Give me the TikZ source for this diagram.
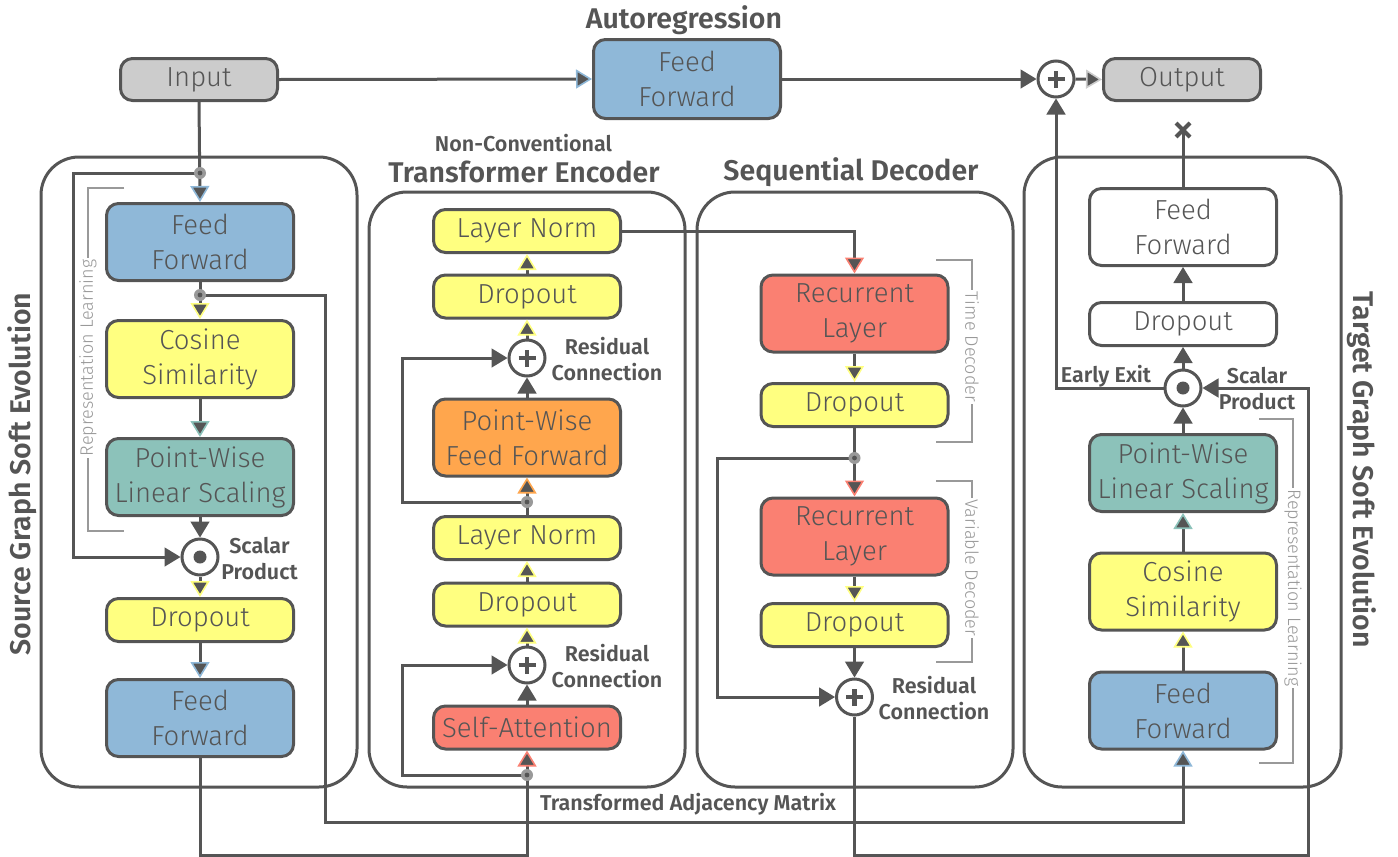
\documentclass[tikz,border=0pt]{standalone}
\usepackage{fontspec}
\usetikzlibrary{arrows.meta,calc}
\IfFontExistsTF{Fira Sans Light}{\newfontfamily\lightf{Fira Sans Light}}{\newfontfamily\lightf{Fira Sans}}
\IfFontExistsTF{Fira Sans SemiBold}{\newfontfamily\boldf{Fira Sans SemiBold}}{\newfontfamily\boldf{Fira Sans}}
\definecolor{dk}{HTML}{555555}
\definecolor{cblue}{HTML}{8FB8D8}
\definecolor{cyel}{HTML}{FFFF80}
\definecolor{cteal}{HTML}{8CC2BA}
\definecolor{corg}{HTML}{FFA64D}
\definecolor{csal}{HTML}{FA8072}
\definecolor{cgray}{HTML}{CCCCCC}
\definecolor{cbr}{HTML}{999999}
\tikzset{
  arr/.style={-{Triangle[width=19pt,length=16pt,line width=1.6pt,color=#1,fill=dk]}},
  arr/.default=dk,
  conn/.style={draw=dk, line width=3pt},
  box/.style={draw=dk, line width=3pt, rounded corners=12pt, text=dk,
    font=\lightf\fontsize{27.5pt}{35pt}\selectfont, align=center, inner sep=0pt,
    minimum width=187pt},
  tall/.style={box, minimum height=77pt},
  short/.style={box, minimum height=43pt},
  panel/.style={draw=dk, line width=3pt, rounded corners=38pt},
  op/.style={circle, draw=dk, line width=3pt, fill=white, minimum size=36pt, inner sep=0pt},
  opplus/.style={op, path picture={\draw[dk, line width=4.5pt]
      ($(path picture bounding box.center)+(-8.5pt,0)$) -- ++(17pt,0)
      ($(path picture bounding box.center)+(0,-8.5pt)$) -- ++(0,17pt);}},
  opdot/.style={op, path picture={\fill[dk] (path picture bounding box.center) circle (6.5pt);}},
  jn/.style={circle, fill=cbr, minimum size=12pt, inner sep=0pt,
    path picture={\fill[dk] (path picture bounding box.center) circle (2.4pt);}},
  title/.style={text=dk, font=\boldf\fontsize{28.5pt}{32pt}\selectfont, inner sep=0pt},
  lab/.style={text=dk, font=\boldf\fontsize{21.5pt}{26pt}\selectfont, align=center, inner sep=0pt},
  brk/.style={draw=cbr, line width=2.5pt},
  brklab/.style={text=cbr, fill=white, font=\lightf\fontsize{18pt}{20pt}\selectfont, inner sep=1.5pt},
}
\begin{document}
\begin{tikzpicture}[x=1pt, y=-1pt]
\useasboundingbox (0,0) rectangle (1398,857);
% panels
\draw[panel] (41,157) rectangle (357,787);
\draw[panel] (369,192) rectangle (685,787);
\draw[panel] (697,192) rectangle (1013,787);
\draw[panel] (1024,157) rectangle (1341,787);
% titles
\node[title] (tAR) at (684,20) {Autoregression};
\node[lab] (tNC) at (523.5,143) {Non-Conventional};
\node[title] (tTE) at (524,172) {Transformer Encoder};
\node[title] (tSD) at (851,172) {Sequential Decoder};
\node[title, rotate=90] (tSrc) at (22,474) {Source Graph Soft Evolution};
\node[title, rotate=-90] (tTgt) at (1362,470) {Target Graph Soft Evolution};
% brackets
\draw[brk] (124,188) -- (88,188) -- (88,531) -- (124,531);
\node[brklab, rotate=90] (rl1) at (88,358) {Representation Learning};
\draw[brk] (1259,419) -- (1293,419) -- (1293,763) -- (1259,763);
\node[brklab, rotate=-90] (rl2) at (1293,588) {Representation Learning};
\draw[brk] (936,260) -- (972,260) -- (972,442) -- (936,442);
\node[brklab, rotate=-90] (tdl) at (972,347) {Time Decoder};
\draw[brk] (936,481) -- (972,481) -- (972,662) -- (936,662);
\node[brklab, rotate=-90] (vdl) at (972,568) {Variable Decoder};
% top nodes
\node[box, fill=cgray, minimum width=157pt, minimum height=42pt] (in) at (199,79.5) {Input};
\node[box, fill=cblue, minimum width=187pt, minimum height=79pt] (arFF) at (687,79) {Feed\\Forward};
\node[opplus] (topPl) at (1056,79) {};
\node[box, fill=cgray, minimum width=157pt, minimum height=42pt] (out) at (1182,79.5) {Output};
% source column
\node[tall, fill=cblue] (sFF1) at (200,242) {Feed\\Forward};
\node[tall, fill=cyel] (sCos) at (200,359) {Cosine\\Similarity};
\node[tall, fill=cteal] (sPW) at (200,477) {Point-Wise\\Linear Scaling};
\node[opdot] (sDot) at (200,557) {};
\node[lab] (sSP) at (259.5,559) {Scalar\\Product};
\node[short, fill=cyel] (sDr) at (200,620) {Dropout};
\node[tall, fill=cblue] (sFF2) at (200,718) {Feed\\Forward};
% encoder column
\node[short, fill=cyel] (eLN1) at (527,231) {Layer Norm};
\node[short, fill=cyel] (eDr1) at (527,296.5) {Dropout};
\node[opplus] (ePl1) at (527,358) {};
\node[lab] (eRC1) at (607,359.5) {Residual\\Connection};
\node[tall, fill=corg] (ePW) at (527,437.5) {Point-Wise\\Feed Forward};
\node[short, fill=cyel] (eLN2) at (527,538) {Layer Norm};
\node[short, fill=cyel] (eDr2) at (527,604.5) {Dropout};
\node[opplus] (ePl2) at (527,665) {};
\node[lab] (eRC2) at (607,666.5) {Residual\\Connection};
\node[short, fill=csal] (eSA) at (527,727.5) {Self-Attention};
% decoder column
\node[tall, fill=csal] (dRL1) at (854.5,313.5) {Recurrent\\Layer};
\node[short, fill=cyel] (dDr1) at (854.5,405) {Dropout};
\node[tall, fill=csal] (dRL2) at (854.5,536.5) {Recurrent\\Layer};
\node[short, fill=cyel] (dDr2) at (854.5,625) {Dropout};
\node[opplus] (dPl) at (854.5,697) {};
\node[lab] (dRC) at (934,698) {Residual\\Connection};
% target column
\node[tall, fill=white] (tFF1) at (1183,227) {Feed\\Forward};
\node[short, fill=white] (tDr) at (1183,324) {Dropout};
\node[opdot] (tDot) at (1183,388) {};
\node[lab] (tEE) at (1106,376) {Early Exit};
\node[lab] (tSP) at (1257,389) {Scalar\\Product};
\node[tall, fill=cteal] (tPW) at (1183,473) {Point-Wise\\Linear Scaling};
\node[tall, fill=cyel] (tCos) at (1183,591.5) {Cosine\\Similarity};
\node[tall, fill=cblue] (tFF2) at (1183,710.5) {Feed\\Forward};
\node[lab] (tAM) at (688,804) {Transformed Adjacency Matrix};
% junction coordinates
\coordinate (sJ0) at (200,173);
\coordinate (sJ1) at (200,295);
\coordinate (eJ1) at (527,502);
\coordinate (eJ2) at (527,775);
\coordinate (dJ) at (854.5,458);
\coordinate (xm) at (1183,130);
% connectors
\draw[conn, arr=cblue] (in.east) -- (arFF.west);
\draw[conn, arr] (arFF.east) -- (topPl.west);
\draw[conn, arr=cgray] (topPl.east) -- (out.west);
\draw[conn, arr=cblue] (in.south) -- (sFF1.north);
\draw[conn, arr] (sJ0) -- (73,173) -- (73,557) -- (sDot.west);
\draw[conn, arr=cyel] (sFF1.south) -- (sCos.north);
\draw[conn, arr=cblue] (sJ1) -- (325,295) -- (325,822) -- (tFF2.south |- 0,822) -- (tFF2.south);
\draw[conn, arr=cteal] (sCos.south) -- (sPW.north);
\draw[conn, arr] (sPW.south) -- (sDot.north);
\draw[conn, arr=cyel] (sDot.south) -- (sDr.north);
\draw[conn, arr=cblue] (sDr.south) -- (sFF2.north);
\draw[conn] (sFF2.south) -- (200,855) -- (527,855) -- (eJ2);
\draw[conn, arr=csal] (eJ2) -- (eSA.south);
\draw[conn, arr] (eJ2) -- (402,775) -- (402,665) -- (ePl2.west);
\draw[conn, arr] (eSA.north) -- (ePl2.south);
\draw[conn, arr=cyel] (ePl2.north) -- (eDr2.south);
\draw[conn, arr=cyel] (eDr2.north) -- (eLN2.south);
\draw[conn, arr=corg] (eLN2.north) -- (ePW.south);
\draw[conn, arr] (eJ1) -- (402,502) -- (402,358) -- (ePl1.west);
\draw[conn, arr] (ePW.north) -- (ePl1.south);
\draw[conn, arr=cyel] (ePl1.north) -- (eDr1.south);
\draw[conn, arr=cyel] (eDr1.north) -- (eLN1.south);
\draw[conn, arr=csal] (eLN1.east) -- (dRL1.north |- eLN1.east) -- (dRL1.north);
\draw[conn, arr=cyel] (dRL1.south) -- (dDr1.north);
\draw[conn, arr=csal] (dDr1.south) -- (dRL2.north);
\draw[conn, arr] (dJ) -- (717,458) -- (717,697) -- (dPl.west);
\draw[conn, arr=cyel] (dRL2.south) -- (dDr2.north);
\draw[conn, arr] (dDr2.south) -- (dPl.north);
\draw[conn, arr] (dPl.south) -- (854.5,855) -- (1308,855) -- (1308,388) -- (tDot.east);
\draw[conn, arr=cyel] (tFF2.north) -- (tCos.south);
\draw[conn, arr=cteal] (tCos.north) -- (tPW.south);
\draw[conn, arr] (tPW.north) -- (tDot.south);
\draw[conn, arr] (tDot.north) -- (tDr.south);
\draw[conn, arr] (tDr.north) -- (tFF1.south);
\draw[conn] (tFF1.north) -- (xm);
\draw[dk, line width=4pt] ($(xm)+(-7,-7)$) -- ($(xm)+(7,7)$) ($(xm)+(-7,7)$) -- ($(xm)+(7,-7)$);
\draw[conn, arr] (tDot.west) -- (topPl.south |- tDot.west) -- (topPl.south);
% junction dots
\node[jn] (jS0) at (sJ0) {};
\node[jn] (jS1) at (sJ1) {};
\node[jn] (jE1) at (eJ1) {};
\node[jn] (jE2) at (eJ2) {};
\node[jn] (jD) at (dJ) {};
\end{tikzpicture}
\end{document}
